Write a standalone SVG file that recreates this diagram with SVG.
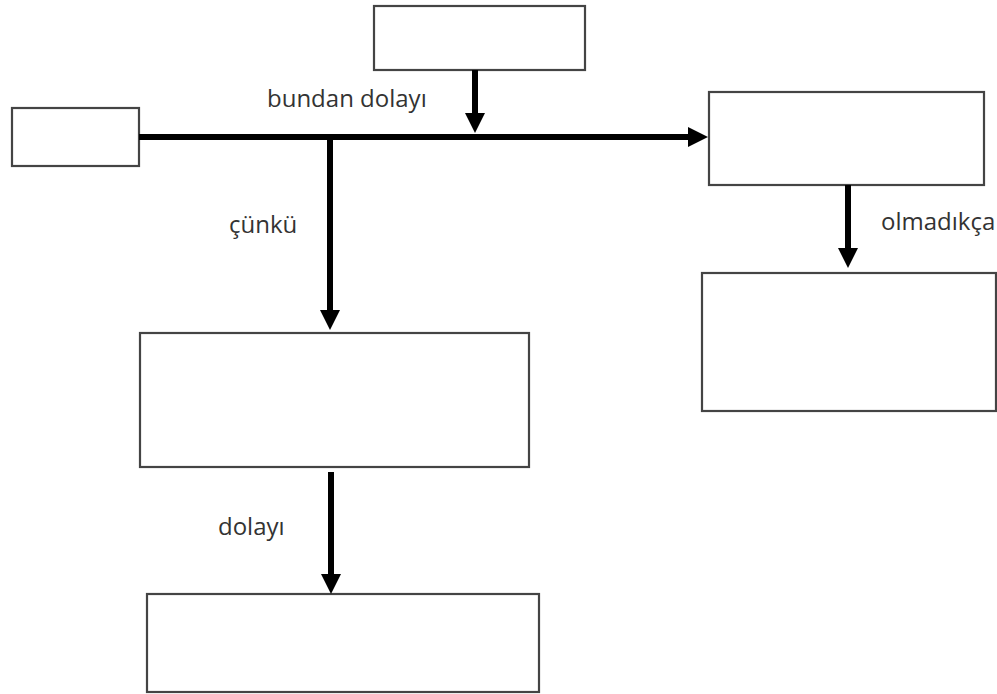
<svg xmlns="http://www.w3.org/2000/svg" width="997" height="694" viewBox="0 0 997 694">
<style>
.box{fill:#fff;stroke:#444;stroke-width:2.2}
.con{stroke:#000;stroke-width:6;fill:none}
.lbl{font-family:"Open Sans","DejaVu Sans",sans-serif;font-size:24px;fill:#333}
</style>
<defs>
<marker id="ah" markerUnits="userSpaceOnUse" markerWidth="20" markerHeight="20" refX="0" refY="10" orient="auto" viewBox="0 0 20 20">
<path d="M0,0 L20,10 L0,20 z" fill="#000"/>
</marker>
</defs>
<rect width="997" height="694" fill="#fff"/>
<g id="node-a"><rect class="box" x="12" y="108" width="127" height="58"/></g>
<g id="node-b"><rect class="box" x="374" y="6" width="211" height="64"/></g>
<g id="node-c"><rect class="box" x="709" y="92" width="275" height="93"/></g>
<g id="node-d"><rect class="box" x="702" y="273" width="294" height="138"/></g>
<g id="node-e"><rect class="box" x="140" y="333" width="389" height="134"/></g>
<g id="node-f"><rect class="box" x="147" y="594" width="392" height="98"/></g>
<g id="connectors">
<line class="con" x1="139" y1="137" x2="688" y2="137" marker-end="url(#ah)"/>
<line class="con" x1="475" y1="70" x2="475" y2="113" marker-end="url(#ah)"/>
<line class="con" x1="330" y1="137" x2="330" y2="310" marker-end="url(#ah)"/>
<line class="con" x1="331" y1="472" x2="331" y2="574" marker-end="url(#ah)"/>
<line class="con" x1="848" y1="185" x2="848" y2="248" marker-end="url(#ah)"/>
<text class="lbl" x="267" y="107">bundan dolayı</text>
<text class="lbl" x="229" y="233">çünkü</text>
<text class="lbl" x="218" y="535">dolayı</text>
<text class="lbl" x="881" y="230">olmadıkça</text>
</g>
</svg>
